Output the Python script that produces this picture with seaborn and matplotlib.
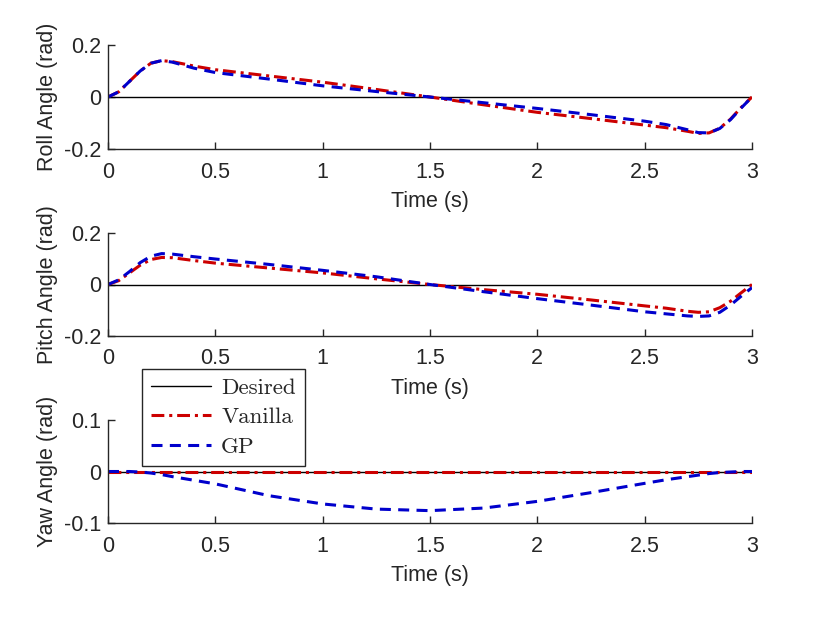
import numpy as np
import pandas as pd
import matplotlib
matplotlib.use("Agg")
import matplotlib.pyplot as plt
import seaborn as sns

# Sample times (s) and angles
time = [0, 0.05, 0.1, 0.15, 0.2, 0.25, 0.3, 0.4, 0.5, 0.75, 1.0, 1.25, 1.5,
        1.75, 2.0, 2.25, 2.5, 2.6, 2.7, 2.75, 2.8, 2.85, 2.9, 2.95, 3.0]

roll_vanilla = [0, 0.02, 0.06, 0.1, 0.13, 0.14, 0.136, 0.119, 0.105, 0.081, 0.057,
                0.029, 0.0, -0.03, -0.059, -0.083, -0.108, -0.118, -0.132, -0.14,
                -0.138, -0.12, -0.085, -0.04, 0.0]
roll_gp = [0, 0.02, 0.06, 0.1, 0.13, 0.14, 0.134, 0.111, 0.094, 0.069, 0.043,
           0.021, 0.0, -0.022, -0.044, -0.068, -0.093, -0.106, -0.126, -0.137,
           -0.138, -0.121, -0.087, -0.042, 0.0]

pitch_vanilla = [0, 0.015, 0.045, 0.075, 0.097, 0.105, 0.104, 0.093, 0.083, 0.064,
                 0.045, 0.022, 0.0, -0.02, -0.038, -0.06, -0.083, -0.092, -0.104,
                 -0.108, -0.106, -0.09, -0.065, -0.032, 0.0]
pitch_gp = [0, 0.018, 0.05, 0.085, 0.11, 0.12, 0.118, 0.108, 0.099, 0.078, 0.055,
            0.03, 0.0, -0.028, -0.055, -0.08, -0.106, -0.114, -0.122, -0.124,
            -0.122, -0.108, -0.08, -0.045, -0.012]

yaw_vanilla = [0.0] * len(time)
yaw_gp = [0, 0, 0, -0.001, -0.003, -0.006, -0.01, -0.017, -0.024, -0.047, -0.063,
          -0.073, -0.076, -0.071, -0.058, -0.041, -0.023, -0.016, -0.01, -0.007,
          -0.004, -0.002, -0.001, 0.0, 0.0]

panels = [
    ("Roll Angle (rad)", roll_vanilla, roll_gp, 0.2, [-0.2, 0, 0.2]),
    ("Pitch Angle (rad)", pitch_vanilla, pitch_gp, 0.2, [-0.2, 0, 0.2]),
    ("Yaw Angle (rad)", yaw_vanilla, yaw_gp, 0.1, [-0.1, 0, 0.1]),
]

sns.set_style("ticks")
plt.rcParams["font.family"] = ["Liberation Sans", "DejaVu Sans"]
ink = "#262626"
fs = 15.5

fig = plt.figure(figsize=(8.3, 6.23), dpi=100)
W, H = 830, 623
tops = [45, 233, 420]
bots = [149, 336, 523]

red = (0.8, 0, 0)
blue = (0, 0, 0.8)

for (label, van, gp, lim, yt), top, bot in zip(panels, tops, bots):
    ax = fig.add_axes([108 / W, 1 - bot / H, (752 - 108) / W, (bot - top) / H])
    df = pd.DataFrame({"t": time, "desired": [0.0] * len(time), "vanilla": van, "gp": gp})
    sns.lineplot(data=df, x="t", y="desired", ax=ax, color="black", lw=1.0, label="Desired")
    sns.lineplot(data=df, x="t", y="vanilla", ax=ax, color=red, lw=2.2,
                 label="Vanilla").lines[-1].set_dashes([4.2, 1.6, 1, 1.6])
    sns.lineplot(data=df, x="t", y="gp", ax=ax, color=blue, lw=2.2,
                 label="GP").lines[-1].set_dashes([3.6, 2.4])
    ax.get_legend().remove()
    ax.set_xlim(0, 3)
    ax.set_ylim(-lim, lim)
    ax.set_xticks([0, 0.5, 1, 1.5, 2, 2.5, 3])
    ax.set_xticklabels(["0", "0.5", "1", "1.5", "2", "2.5", "3"])
    ax.set_yticks(yt)
    ax.set_yticklabels([f"{v:g}" for v in yt])
    ax.set_xlabel("Time (s)", fontsize=fs, color=ink, labelpad=6)
    ax.set_ylabel(label, fontsize=fs, color=ink, labelpad=4)
    sns.despine(ax=ax)
    for s in ("left", "bottom"):
        ax.spines[s].set_color(ink)
        ax.spines[s].set_linewidth(1.0)
    ax.tick_params(direction="in", length=5, width=1.0, colors=ink, labelsize=fs)
    ax.tick_params(axis="x", pad=9)
    ax.tick_params(axis="y", pad=5)

handles, labels = ax.get_legend_handles_labels()
leg = fig.legend(handles, labels, loc="upper left",
                 bbox_to_anchor=(142 / W, 1 - 369 / H),
                 prop={"family": "cmr10", "size": 16.5},
                 frameon=True, fancybox=False, framealpha=1,
                 edgecolor=ink, handlelength=2.6, borderpad=0.4,
                 labelspacing=0.4, handletextpad=0.45, borderaxespad=0)
leg.get_frame().set_linewidth(1.0)

fig.savefig("out.png", dpi=100)
